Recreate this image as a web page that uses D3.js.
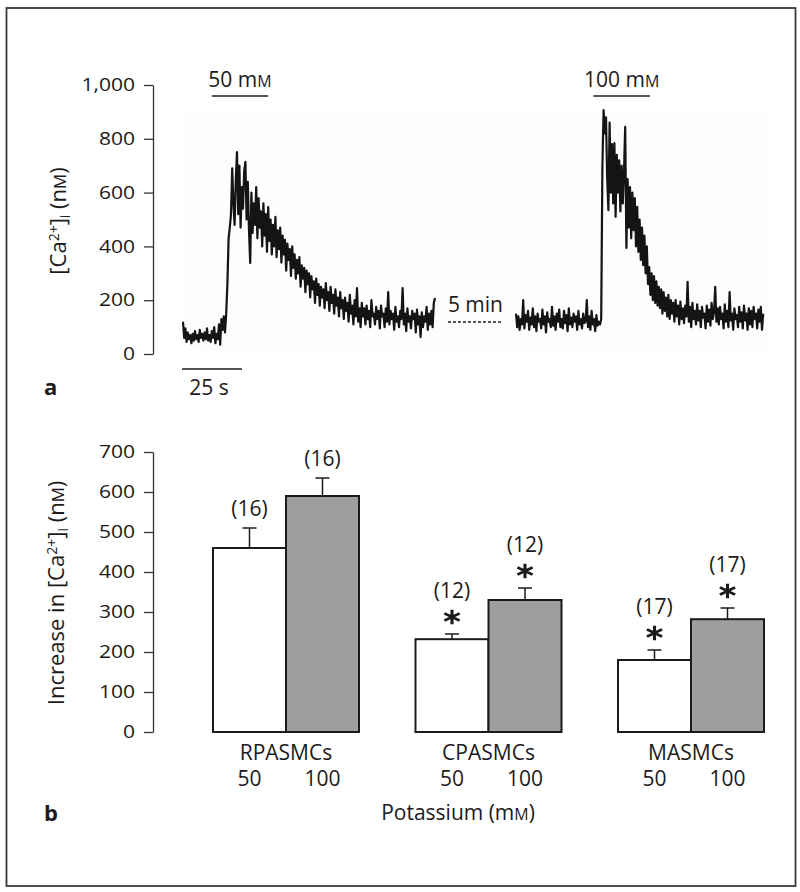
<!DOCTYPE html>
<html><head><meta charset="utf-8">
<script src="https://cdn.jsdelivr.net/npm/d3@7"></script>
<style>
body{margin:0;background:#fff}
text{font-family:"Open Sans","Noto Sans",sans-serif;fill:#1d1a1b}
</style>
</head><body><svg id="c" width="800" height="892"></svg>
<script>
// ---------- Panel a: [Ca2+]i trace (nM), sampled every 0.5 s ----------
const sampleStep = 0.5;
const seg1Start = 0;        // s
const seg2Start = 138.75;   // s (display time, after the 5-min gap)
const seg1Values = [
120,60,95,45,80,55,70,40,75,50,
85,55,70,45,90,60,75,50,80,55,
95,50,70,45,85,60,100,40,75,55,
110,35,130,90,140,80,150,260,430,470,
520,690,560,480,650,751,520,700,470,620,
540,680,714,500,640,460,338,600,450,560,
480,620,430,580,470,530,400,560,440,520,
380,546,420,500,370,480,400,510,360,460,
390,470,340,440,370,424,310,410,350,390,
290,400,320,370,280,350,300,360,250,330,
280,320,230,310,260,300,210,290,240,270,
190,280,220,260,180,250,210,240,170,264,
200,230,160,250,190,220,150,240,180,210,
140,230,170,200,130,210,160,190,120,220,
150,180,110,200,140,245,120,170,100,190,
140,170,110,180,130,160,100,200,140,150,
110,175,130,160,95,180,140,150,100,170,
120,230,110,160,130,150,90,175,120,140,
100,160,130,245,110,150,85,170,120,140,
95,160,130,150,80,165,110,140,63,155,
100,140,120,175,90,150,110,160,100,190,
208];
const seg2Values = [
150,100,140,90,130,110,200,95,145,120,
160,90,135,110,170,100,140,85,150,120,
130,95,165,110,140,80,155,120,130,100,
175,105,140,90,150,120,165,100,130,95,
160,115,145,85,170,110,135,100,150,120,
140,90,160,110,130,95,150,115,120,200,
100,140,90,160,110,130,85,145,105,120,
110,130,700,907,820,880,650,535,860,600,
780,560,784,510,740,600,720,530,700,560,
680,844,394,650,470,620,430,600,460,580,
400,547,380,500,350,470,330,440,300,400,
260,323,220,300,200,290,190,270,180,250,
170,240,150,230,160,210,140,220,130,200,
150,190,120,200,140,180,110,195,130,170,
115,180,140,268,120,175,100,190,130,160,
110,185,125,160,100,175,135,150,95,180,
120,165,105,190,130,155,250,120,170,110,
175,130,150,95,185,120,160,100,230,125,
150,90,170,130,145,100,175,120,155,95,
180,125,150,90,170,110,160,100,175,130,
150,95,165,120,175,90,150];
const traceTicks = [0,200,400,600,800,1000];
const stimuli = [{conc:"50", start:12, end:35.5},{conc:"100", start:171, end:194.5}];
const scaleBarSeconds = 25;
const gapLabel = "5 min";
const gapSpan = [110.4, 133.3];

// ---------- Panel b: bar chart ----------
const groups = ["RPASMCs","CPASMCs","MASMCs"];
const doses = ["50","100"];
const means50 = [460,232,180];
const means100 = [590,330,282];
const errTop50 = [510,245,205];
const errTop100 = [635,360,310];
const nCells = [16,12,17];
const significant = [false,true,true];
const barTicks = [0,100,200,300,400,500,600,700];

const svg = d3.select("#c");
const ink = "#1d1a1b";

// frame
svg.append("rect").attr("x",6.5).attr("y",8).attr("width",789).attr("height",878)
  .attr("fill","none").attr("stroke","#3a3a3a").attr("stroke-width",1.8);

function stretchX(sel,k){
  sel.each(function(){
    const t=d3.select(this);
    const x=+t.attr("x")||0, y=+t.attr("y")||0;
    t.attr("transform",`translate(${x},${y}) scale(${k},1) translate(${-x},${-y})`);
  });
}
function styleAxis(g){
  g.selectAll("path.domain").attr("stroke","#333").attr("stroke-width",1.3);
  g.selectAll(".tick line").attr("stroke","#333").attr("stroke-width",1.3);
  g.selectAll(".tick text").attr("font-size",18).attr("fill",ink)
    .attr("font-family","'Open Sans','Noto Sans',sans-serif");
  stretchX(g.selectAll(".tick text"),1.17);
}
function addMM(text, pre){
  text.append("tspan").text(pre);
  text.append("tspan").attr("font-size","76%").text("M");
}

// ===== Panel a =====
const xT = d3.scaleLinear().domain([0,250]).range([183,783]);
const yT = d3.scaleLinear().domain([0,1000]).range([354,85]);

svg.append("rect").attr("x",182).attr("y",109).attr("width",588).attr("height",241).attr("fill","#fdfdfd");

const gA = svg.append("g").attr("transform","translate(153,0)")
  .call(d3.axisLeft(yT).tickValues(traceTicks).tickSize(9).tickSizeOuter(0).tickPadding(9).tickFormat(d3.format(",")));
styleAxis(gA);

const line = d3.line().x(d=>xT(d[0])).y(d=>yT(d[1]));
const seg1 = seg1Values.map((v,i)=>[seg1Start+i*sampleStep,v]);
const seg2 = seg2Values.map((v,i)=>[seg2Start+i*sampleStep,v]);
[seg1,seg2].forEach(s=>{
  svg.append("path").datum(s).attr("d",line).attr("fill","none")
    .attr("stroke","#141414").attr("stroke-width",2.2).attr("stroke-linejoin","round");
});

stimuli.forEach(s=>{
  svg.append("line").attr("x1",xT(s.start)).attr("x2",xT(s.end)).attr("y1",96).attr("y2",96)
    .attr("stroke",ink).attr("stroke-width",1.7);
  const t = svg.append("text").attr("x",(xT(s.start)+xT(s.end))/2).attr("y",87)
    .attr("text-anchor","middle").attr("font-size",21);
  addMM(t, s.conc+" m");
});
svg.append("line").attr("x1",xT(0)-1).attr("x2",xT(scaleBarSeconds)-1).attr("y1",369).attr("y2",369)
  .attr("stroke",ink).attr("stroke-width",1.7);
svg.append("text").attr("x",(xT(0)+xT(scaleBarSeconds))/2-4).attr("y",395)
  .attr("text-anchor","middle").attr("font-size",21).text(scaleBarSeconds+" s");
svg.append("line").attr("x1",xT(gapSpan[0])).attr("x2",xT(gapSpan[1])).attr("y1",322).attr("y2",322)
  .attr("stroke",ink).attr("stroke-width",1.5).attr("stroke-dasharray","3,2");
svg.append("text").attr("x",(xT(gapSpan[0])+xT(gapSpan[1]))/2).attr("y",312)
  .attr("text-anchor","middle").attr("font-size",21).text(gapLabel);

{
  const t = svg.append("text").attr("transform","translate(66,221) rotate(-90)")
    .attr("text-anchor","middle").attr("font-size",22);
  t.append("tspan").text("[Ca");
  t.append("tspan").attr("font-size",14).attr("dy",-7.5).text("2+");
  t.append("tspan").attr("dy",7.5).text("]");
  t.append("tspan").attr("font-size",14).attr("dy",4).text("i");
  t.append("tspan").attr("dy",-4).text(" (n");
  t.append("tspan").attr("font-size","76%").text("M");
  t.append("tspan").text(")");
}
svg.append("text").attr("x",44).attr("y",395).attr("font-size",22).attr("font-weight","bold").text("a");

// ===== Panel b =====
const yB = d3.scaleLinear().domain([0,700]).range([732,452]);
const xG = d3.scaleBand().domain(groups).range([213,764]).paddingInner(0.279).paddingOuter(0);
const xD = d3.scaleBand().domain(doses).range([0,xG.bandwidth()]).padding(0);

const gB = svg.append("g").attr("transform","translate(153,0)")
  .call(d3.axisLeft(yB).tickValues(barTicks).tickSize(9).tickSizeOuter(0).tickPadding(9));
styleAxis(gB);

const bars = [];
groups.forEach((g,i)=>{
  bars.push({group:g, dose:"50", mean:means50[i], err:errTop50[i], n:nCells[i], sig:significant[i]});
  bars.push({group:g, dose:"100", mean:means100[i], err:errTop100[i], n:nCells[i], sig:significant[i]});
});

bars.forEach(b=>{
  const x0 = xG(b.group)+xD(b.dose), w = xD.bandwidth(), cx = x0+w/2;
  svg.append("line").attr("x1",cx).attr("x2",cx).attr("y1",yB(b.mean)).attr("y2",yB(b.err))
    .attr("stroke",ink).attr("stroke-width",1.5);
  svg.append("line").attr("x1",cx-7).attr("x2",cx+7).attr("y1",yB(b.err)).attr("y2",yB(b.err))
    .attr("stroke",ink).attr("stroke-width",1.5);
  svg.append("rect").attr("x",x0).attr("y",yB(b.mean)).attr("width",w).attr("height",yB(0)-yB(b.mean))
    .attr("fill", b.dose==="50" ? "#ffffff" : "#9d9ea0").attr("stroke",ink).attr("stroke-width",2);
  const et = yB(b.err);
  if(b.sig){
    svg.append("path").attr("d",d3.symbol().type(d3.symbolAsterisk).size(150)())
      .attr("transform",`translate(${cx},${et-17}) scale(1.2,1)`)
      .attr("fill","none").attr("stroke",ink).attr("stroke-width",2.6);
  }
  svg.append("text").attr("x",cx).attr("y", b.sig ? et-36 : et-12)
    .attr("text-anchor","middle").attr("font-size",21).text(`(${b.n})`);
  svg.append("text").attr("x",cx).attr("y",786).attr("text-anchor","middle").attr("font-size",21).text(b.dose);
});
groups.forEach(g=>{
  svg.append("text").attr("x",xG(g)+xG.bandwidth()/2).attr("y",760).attr("text-anchor","middle")
    .attr("font-size",21).text(g);
});
{
  const t = svg.append("text").attr("x",458).attr("y",820).attr("text-anchor","middle").attr("font-size",21);
  addMM(t,"Potassium (m"); t.append("tspan").text(")");
}
{
  const t = svg.append("text").attr("transform","translate(64,593) rotate(-90)")
    .attr("text-anchor","middle").attr("font-size",22);
  t.append("tspan").text("Increase in [Ca");
  t.append("tspan").attr("font-size",14).attr("dy",-7.5).text("2+");
  t.append("tspan").attr("dy",7.5).text("]");
  t.append("tspan").attr("font-size",14).attr("dy",4).text("i");
  t.append("tspan").attr("dy",-4).text(" (n");
  t.append("tspan").attr("font-size","76%").text("M");
  t.append("tspan").text(")");
}
svg.append("text").attr("x",44).attr("y",821).attr("font-size",22).attr("font-weight","bold").text("b");
</script></body></html>
